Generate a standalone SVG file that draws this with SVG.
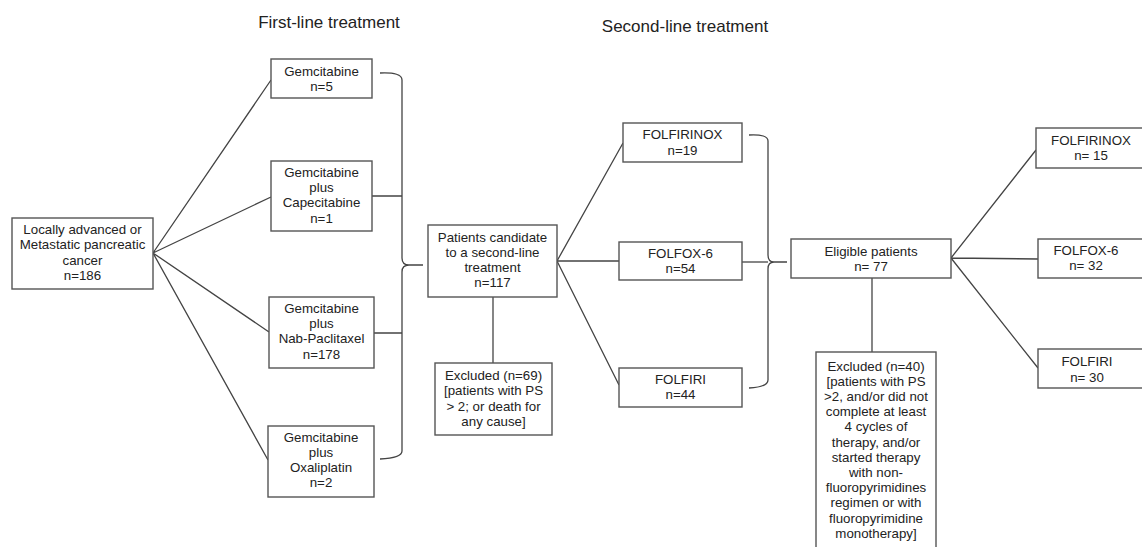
<svg xmlns="http://www.w3.org/2000/svg" width="1142" height="547" viewBox="0 0 1142 547">
<style>
.box{fill:#fff;stroke:#555;stroke-width:1.4}
.t{font-family:"Liberation Sans",Arial,sans-serif;font-size:13.3px;fill:#222;text-anchor:middle}
.h{font-family:"Liberation Sans",Arial,sans-serif;font-size:17px;fill:#222;text-anchor:middle}
.c{fill:none;stroke:#444;stroke-width:1.3}
</style>
<rect width="1142" height="547" fill="#fff"/>
<text class="h" x="329" y="28">First-line treatment</text>
<text class="h" x="685" y="32">Second-line treatment</text>
<g id="connectors">
<path class="c" d="M153,253 L271,80 M153,253 L271,197 M153,253 L269,332 M153,253 L268,460"/>
<path class="c" d="M372,196 L402,196 M374,333 L402,333"/>
<path class="c" d="M380,73 Q402,72 402,80 L402,258 Q402,265 409,265 L423,265 M409,265 Q402,265 402,272 L402,451 Q402,458 380,459"/>
<path class="c" d="M557,261 L623,143 M557,261 L619,261 M557,261 L619,385"/>
<path class="c" d="M493,297 L493,363"/>
<path class="c" d="M742,262 L768,262"/>
<path class="c" d="M749,135 Q768,134 768,141 L768,255 Q768,262 774,262 L787,262 M774,262 Q768,262 768,269 L768,380 Q768,387 749,388"/>
<path class="c" d="M951,258 L1036,150 M951,258 L1038,259 M951,258 L1038,368"/>
<path class="c" d="M872,278 L872,352"/>
</g>
<g id="n-start">
<rect class="box" x="12" y="218" width="141" height="71"/>
<text class="t" x="82.5" y="233.5">Locally advanced or</text>
<text class="t" x="82.5" y="249">Metastatic pancreatic</text>
<text class="t" x="82.5" y="264.5">cancer</text>
<text class="t" x="82.5" y="279.5">n=186</text>
</g>
<g id="n-gem">
<rect class="box" x="271" y="59" width="101" height="39"/>
<text class="t" x="321.5" y="75.5">Gemcitabine</text>
<text class="t" x="321.5" y="90.5">n=5</text>
</g>
<g id="n-gemcap">
<rect class="box" x="271" y="161" width="101" height="70"/>
<text class="t" x="321.5" y="176.5">Gemcitabine</text>
<text class="t" x="321.5" y="192">plus</text>
<text class="t" x="321.5" y="207">Capecitabine</text>
<text class="t" x="321.5" y="222.5">n=1</text>
</g>
<g id="n-gemnab">
<rect class="box" x="269" y="297" width="105" height="71"/>
<text class="t" x="321.5" y="312.5">Gemcitabine</text>
<text class="t" x="321.5" y="327.5">plus</text>
<text class="t" x="321.5" y="343">Nab-Paclitaxel</text>
<text class="t" x="321.5" y="358.5">n=178</text>
</g>
<g id="n-gemox">
<rect class="box" x="268" y="426" width="106" height="71"/>
<text class="t" x="321" y="441.5">Gemcitabine</text>
<text class="t" x="321" y="456.5">plus</text>
<text class="t" x="321" y="471.5">Oxaliplatin</text>
<text class="t" x="321" y="486.5">n=2</text>
</g>
<g id="n-candidate">
<rect class="box" x="428" y="225" width="129" height="72"/>
<text class="t" x="492.5" y="241.5">Patients candidate</text>
<text class="t" x="492.5" y="256.5">to a second-line</text>
<text class="t" x="492.5" y="271.5">treatment</text>
<text class="t" x="492.5" y="286.5">n=117</text>
</g>
<g id="n-excl69">
<rect class="box" x="435" y="363" width="117" height="72"/>
<text class="t" x="493.5" y="379.5">Excluded (n=69)</text>
<text class="t" x="493.5" y="395">[patients with PS</text>
<text class="t" x="493.5" y="410.5">&gt; 2; or death for</text>
<text class="t" x="493.5" y="425.5">any cause]</text>
</g>
<g id="n-folfirinox1">
<rect class="box" x="623" y="123" width="119" height="39"/>
<text class="t" x="682.5" y="138.5">FOLFIRINOX</text>
<text class="t" x="682.5" y="154.5">n=19</text>
</g>
<g id="n-folfox1">
<rect class="box" x="619" y="242" width="123" height="38"/>
<text class="t" x="680.5" y="257.5">FOLFOX-6</text>
<text class="t" x="680.5" y="272.5">n=54</text>
</g>
<g id="n-folfiri1">
<rect class="box" x="619" y="368" width="123" height="39"/>
<text class="t" x="680.5" y="383.5">FOLFIRI</text>
<text class="t" x="680.5" y="398.5">n=44</text>
</g>
<g id="n-eligible">
<rect class="box" x="791" y="239" width="160" height="39"/>
<text class="t" x="871" y="255.5">Eligible patients</text>
<text class="t" x="871" y="270.5">n= 77</text>
</g>
<g id="n-excl40">
<rect class="box" x="816" y="352" width="120" height="200"/>
<text class="t" x="876" y="370.5">Excluded (n=40)</text>
<text class="t" x="876" y="385.7">[patients with PS</text>
<text class="t" x="876" y="400.9">&gt;2, and/or did not</text>
<text class="t" x="876" y="416.1">complete at least</text>
<text class="t" x="876" y="431.3">4 cycles of</text>
<text class="t" x="876" y="446.5">therapy, and/or</text>
<text class="t" x="876" y="461.7">started therapy</text>
<text class="t" x="876" y="476.9">with non-</text>
<text class="t" x="876" y="492.1">fluoropyrimidines</text>
<text class="t" x="876" y="507.3">regimen or with</text>
<text class="t" x="876" y="522.5">fluoropyrimidine</text>
<text class="t" x="876" y="537.7">monotherapy]</text>
</g>
<g id="n-folfirinox2">
<rect class="box" x="1036" y="128" width="110" height="40"/>
<text class="t" x="1091" y="144.5">FOLFIRINOX</text>
<text class="t" x="1091" y="160">n= 15</text>
</g>
<g id="n-folfox2">
<rect class="box" x="1038" y="239" width="110" height="39"/>
<text class="t" x="1086" y="254.5">FOLFOX-6</text>
<text class="t" x="1086" y="270">n= 32</text>
</g>
<g id="n-folfiri2">
<rect class="box" x="1038" y="349" width="110" height="39"/>
<text class="t" x="1087" y="366">FOLFIRI</text>
<text class="t" x="1087" y="381.5">n= 30</text>
</g>
</svg>
